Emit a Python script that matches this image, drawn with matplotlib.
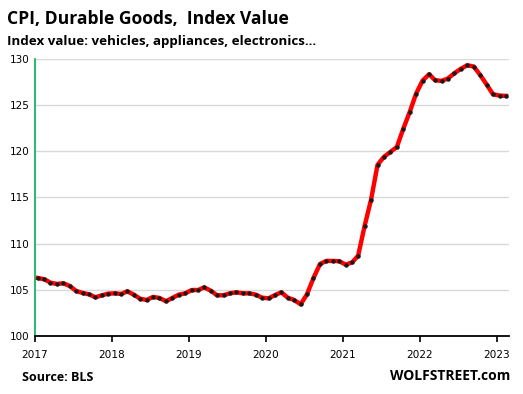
import pandas as pd
import matplotlib
matplotlib.use("Agg")
import matplotlib.pyplot as plt
import matplotlib.dates as mdates

# ==========================
# Data
# ==========================

start_month = "2017-01"
n_months = 74

cpi_durables = [
    106.28, 106.14, 105.78, 105.63, 105.71, 105.42, 104.88, 104.66, 104.51, 104.19, 104.41, 104.59,
    104.62, 104.55, 104.84, 104.48, 104.04, 103.90, 104.23, 104.12, 103.76, 104.12, 104.48, 104.62,
    104.98, 104.98, 105.27, 104.91, 104.41, 104.41, 104.62, 104.73, 104.62, 104.62, 104.48, 104.15,
    104.08, 104.44, 104.73, 104.15, 103.90, 103.43, 104.51, 106.28, 107.80, 108.13, 108.13, 108.10,
    107.73, 107.98, 108.70, 111.95, 114.73, 118.53, 119.39, 119.93, 120.48, 122.43, 124.27, 126.24,
    127.66, 128.35, 127.70, 127.63, 127.88, 128.46, 128.93, 129.32, 129.18, 128.28, 127.23, 126.18,
    126.04, 126.00,
]

y_ticks = [100, 105, 110, 115, 120, 125, 130]

# points sit mid-month on the date axis
dates = pd.date_range(start_month, periods=n_months, freq="MS") + pd.Timedelta(days=14)
df = pd.DataFrame({"date": dates, "value": cpi_durables})

# ==========================
# Chart
# ==========================

plt.rcParams["font.family"] = ["DejaVu Sans"]

fig = plt.figure(figsize=(5.23, 3.94), dpi=100)
ax = fig.add_axes([0.0669, 0.1472, 0.9063, 0.7031])

ax.plot(df["date"], df["value"], color="#ff0000", linewidth=3.2,
        marker="o", markersize=2.2, markerfacecolor="#1a1a1a",
        markeredgecolor="#1a1a1a", zorder=3)

ax.set_ylim(100, 130)
ax.set_yticks(y_ticks)
ax.set_xlim(pd.Timestamp("2017-01-01"), pd.Timestamp("2023-03-01"))
ax.xaxis.set_major_locator(mdates.YearLocator())
ax.xaxis.set_major_formatter(mdates.DateFormatter("%Y"))

for y in y_ticks[1:]:
    ax.axhline(y, color="#d9d9d9", linewidth=1.0, zorder=1)

for side in ["top", "right"]:
    ax.spines[side].set_visible(False)
ax.spines["left"].set_color("#00b050")
ax.spines["left"].set_linewidth(1.2)
ax.spines["bottom"].set_color("black")
ax.spines["bottom"].set_linewidth(1.3)

ax.tick_params(axis="y", length=0, pad=4, labelsize=7.5)
ax.tick_params(axis="x", length=4, width=1.2, direction="out", pad=6, labelsize=7.6)

fig.text(0.013, 0.975, "CPI, Durable Goods,  Index Value", fontsize=12.6,
         fontweight="bold", va="top", ha="left", family="Open Sans")
fig.text(0.013, 0.912, "Index value: vehicles, appliances, electronics...", fontsize=9.6,
         fontweight="bold", va="top", ha="left", family="Open Sans")
fig.text(0.042, 0.043, "Source: BLS", fontsize=9, fontweight="bold",
         va="center", ha="left", family="Open Sans")
fig.text(0.975, 0.045, "WOLFSTREET.com", fontsize=10, fontweight="bold",
         va="center", ha="right", family="Open Sans")

plt.savefig("out.png", dpi=100)
